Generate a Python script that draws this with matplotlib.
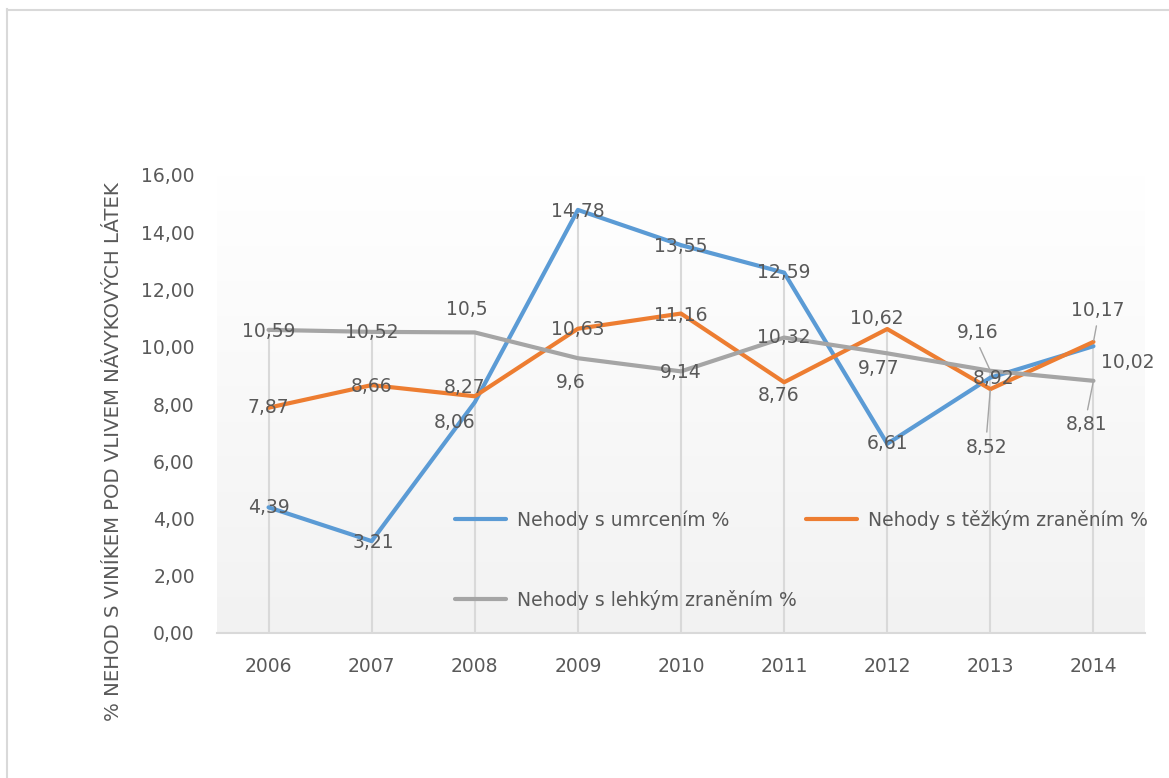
import matplotlib
matplotlib.use("Agg")
import matplotlib.pyplot as plt
from matplotlib.colors import LinearSegmentedColormap
from matplotlib.lines import Line2D
import numpy as np

# ── Data ───────────────────────────────────────────────────────────────────
years = ["2006", "2007", "2008", "2009", "2010", "2011", "2012", "2013", "2014"]
umrceni = [4.39, 3.21, 8.06, 14.78, 13.55, 12.59, 6.61, 8.92, 10.02]
tezke = [7.87, 8.66, 8.27, 10.63, 11.16, 8.76, 10.62, 8.52, 10.17]
lehke = [10.59, 10.52, 10.5, 9.6, 9.14, 10.32, 9.77, 9.16, 8.81]
series_names = ["Nehody s umrcením %", "Nehody s těžkým zraněním %",
                "Nehody s lehkým zraněním %"]
y_ticks = [0, 2, 4, 6, 8, 10, 12, 14, 16]
y_title = "% NEHOD S VINÍKEM POD VLIVEM NÁVYKOVÝCH LÁTEK"

# ── Style ──────────────────────────────────────────────────────────────────
BLUE = "#5B9BD5"
ORANGE = "#ED7D31"
GRAY = "#A5A5A5"
TXT = "#595959"
GRID = "#d9d9d9"
FS = 13.5

# label offsets in pixels (dx, dy) and leader-line anchor (None = no leader)
off_blue = [(0, 0), (2, -1), (-20, -20), (0, -2), (0, -1), (0, 0), (0, 0), (3, -1), (34, -16)]
off_orange = [(0, 0), (0, -1), (-10, 9), (0, -1), (0, -2), (-6, -13), (-10, 11), (-4, -58), (4, 31)]
off_gray = [(0, -2), (0, -1), (-8, 23), (-7, -24), (0, -1), (0, 0), (-9, -15), (-13, 38), (-7, -44)]
lead_blue = [None] * 9
lead_orange = [None] * 7 + [(0.5, 1.0), (0.5, 0.0)]
lead_gray = [None] * 7 + [(0.5, 0.0), (0.5, 1.0)]

W, H = 1169, 778
fig = plt.figure(figsize=(W / 100, H / 100), dpi=100)
fig.patch.set_facecolor("white")

# outer chart frame (runs off the right and bottom edges)
fig.add_artist(Line2D([7 / W, 7 / W], [0, 1 - 9 / H], color=GRID, lw=1.5,
                      transform=fig.transFigure))
fig.add_artist(Line2D([7 / W, 1], [1 - 10 / H, 1 - 10 / H], color=GRID, lw=1.5,
                      transform=fig.transFigure))

ax = fig.add_axes([217 / W, 1 - 633 / H, (1145 - 217) / W, (633 - 175) / H])
x = np.arange(len(years))
ax.set_xlim(-0.5, len(years) - 0.5)
ax.set_ylim(0, 16)

# plot-area gradient: white at top to light gray at the bottom
grad = np.linspace(0, 1, 256).reshape(-1, 1)
cmap = LinearSegmentedColormap.from_list("bg", ["#f2f2f2", "#ffffff"])
ax.imshow(grad, extent=[0, 1, 0, 1], transform=ax.transAxes, origin="lower",
          aspect="auto", cmap=cmap, zorder=0)

# drop lines from the highest point of each year
tops = np.max(np.vstack([umrceni, tezke, lehke]), axis=0)
ax.vlines(x, 0, tops, color=GRID, lw=1.5, zorder=1)

l1, = ax.plot(x, umrceni, color=BLUE, lw=3, zorder=3, solid_capstyle="round")
l2, = ax.plot(x, tezke, color=ORANGE, lw=3, zorder=3, solid_capstyle="round")
l3, = ax.plot(x, lehke, color=GRAY, lw=3, zorder=3, solid_capstyle="round")


def fmt(v):
    return ("%g" % v).replace(".", ",")


for vals, offs, leads in [(umrceni, off_blue, lead_blue),
                          (tezke, off_orange, lead_orange),
                          (lehke, off_gray, lead_gray)]:
    for xi, v, (dx, dy), rel in zip(x, vals, offs, leads):
        kw = {}
        if rel is not None:
            kw["arrowprops"] = dict(arrowstyle="-", color=GRAY, lw=1,
                                    relpos=rel, shrinkA=2, shrinkB=1)
        ax.annotate(fmt(v), (xi, v), xytext=(dx, dy), textcoords="offset pixels",
                    ha="center", va="center", fontsize=FS, color=TXT, zorder=5,
                    **kw)

# axes styling
for s in ["left", "right", "top"]:
    ax.spines[s].set_visible(False)
ax.spines["bottom"].set_color(GRID)
ax.spines["bottom"].set_linewidth(1.5)
ax.spines["bottom"].set_zorder(2)

ax.set_xticks(x)
ax.set_xticklabels(years)
ax.set_yticks(y_ticks)
ax.set_yticklabels([("%.2f" % t).replace(".", ",") for t in y_ticks])
ax.tick_params(axis="both", length=0, labelsize=FS, labelcolor=TXT)
ax.tick_params(axis="y", pad=16)
ax.tick_params(axis="x", pad=17)

fig.text(114 / W, 1 - 452 / H, y_title, rotation=90, ha="center", va="center",
         fontsize=14.2, color=TXT)

# legend in row-major order: umrcením, těžkým / lehkým
leg = ax.legend([l1, l3, l2], [series_names[0], series_names[2], series_names[1]],
                ncol=2, frameon=False, fontsize=FS, labelcolor=TXT,
                loc="upper left", bbox_to_anchor=(455 / W, 1 - 510 / H),
                bbox_transform=fig.transFigure, borderpad=0, borderaxespad=0,
                handlelength=2.7, handletextpad=0.6, columnspacing=0.5,
                labelspacing=3.2)

fig.savefig("out.png", dpi=100, facecolor="white")
